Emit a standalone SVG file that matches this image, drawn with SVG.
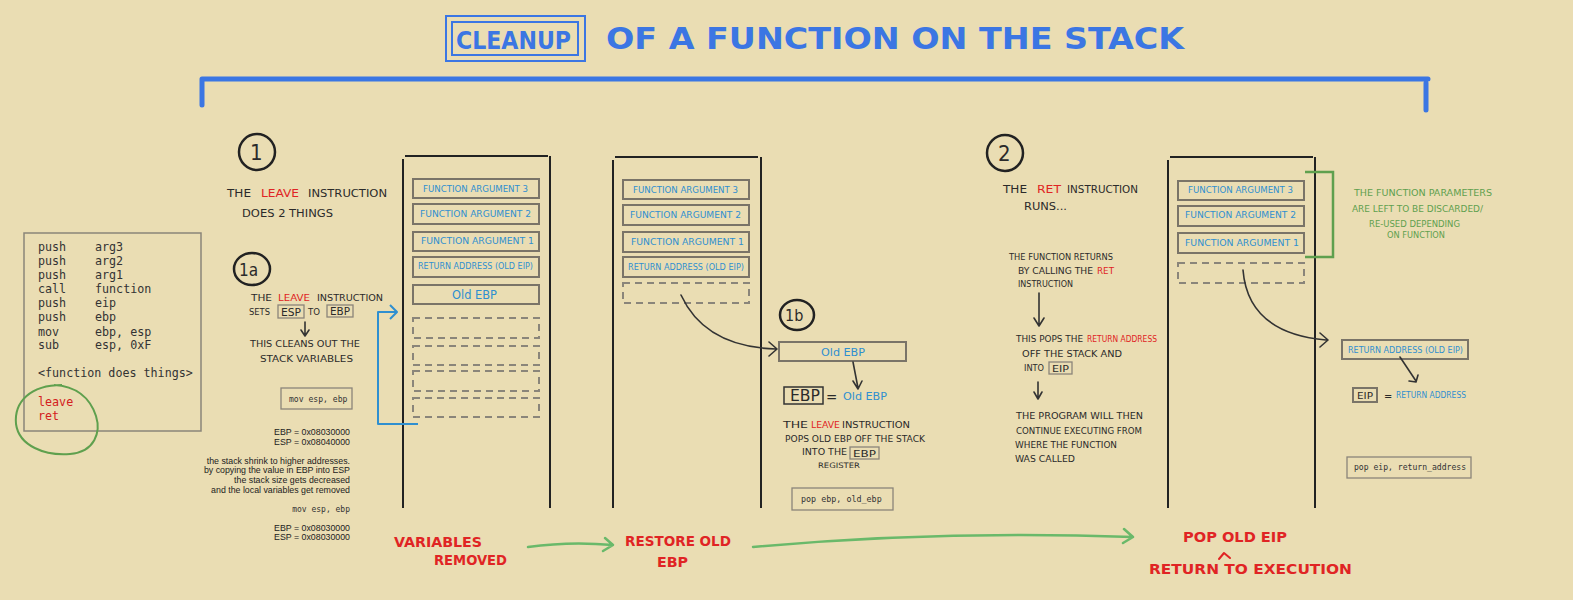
<svg xmlns="http://www.w3.org/2000/svg" width="1573" height="600" viewBox="0 0 1573 600">
<style>
.bg{fill:#EADDB3}
.hw{font-family:"Liberation Sans Narrow","DejaVu Sans Condensed","Liberation Sans",sans-serif;fill:#2a2a2a}
.red{fill:#E02424}
.blue{fill:#2F8FD0}
.grn{fill:#5FA04E}
.ttl{font-family:"Liberation Sans Narrow","DejaVu Sans Condensed","Liberation Sans",sans-serif;fill:#3B76E3;font-weight:bold}
.mono{font-family:"DejaVu Sans Mono","Liberation Mono",monospace;fill:#333}
.sm{font-family:"Liberation Sans",Arial,sans-serif;fill:#222;font-size:8.8px}
.box{fill:none;stroke:#7A7468;stroke-width:2}
.dash{fill:none;stroke:#8A857A;stroke-width:2;stroke-dasharray:7 5}
.stk{fill:none;stroke:#222;stroke-width:2}
.num{fill:none;stroke:#222;stroke-width:2.5}
.ln{fill:none;stroke:#333;stroke-width:1.6;stroke-linecap:round;stroke-linejoin:round}
.ga{fill:none;stroke:#6AB96A;stroke-width:2.5;stroke-linecap:round;stroke-linejoin:round}
.ba{fill:none;stroke:#2F8FD0;stroke-width:2;stroke-linejoin:round}
.cb{fill:none;stroke:#8A857A;stroke-width:1.3}
</style>
<rect class="bg" x="0" y="0" width="1573" height="600"/>

<g id="title">
  <rect x="446" y="16" width="139" height="45" fill="none" stroke="#3B76E3" stroke-width="2"/>
  <rect x="452" y="22" width="126" height="33" fill="none" stroke="#3B76E3" stroke-width="2"/>
  <text class="ttl" x="456" y="49" font-size="24" textLength="115" lengthAdjust="spacingAndGlyphs">CLEANUP</text>
  <text class="ttl" x="606" y="49" font-size="30" textLength="578" lengthAdjust="spacingAndGlyphs">OF A FUNCTION ON THE STACK</text>
  <path d="M202 79 H1428 M202 79 V105 M1426 83 V110" fill="none" stroke="#3B76E3" stroke-width="5" stroke-linecap="round"/>
</g>

<g id="code">
  <rect x="24" y="233" width="177" height="198" fill="none" stroke="#8A857A" stroke-width="1.5"/>
  <g class="mono" font-size="11.7">
    <text x="38" y="251">push</text><text x="95" y="251">arg3</text>
    <text x="38" y="265">push</text><text x="95" y="265">arg2</text>
    <text x="38" y="279">push</text><text x="95" y="279">arg1</text>
    <text x="38" y="293">call</text><text x="95" y="293">function</text>
    <text x="38" y="307">push</text><text x="95" y="307">eip</text>
    <text x="38" y="321">push</text><text x="95" y="321">ebp</text>
    <text x="38" y="336">mov</text><text x="95" y="336">ebp, esp</text>
    <text x="38" y="349">sub</text><text x="95" y="349">esp, 0xF</text>
    <text x="38" y="377">&lt;function does things&gt;</text>
    <text x="38" y="406" fill="#D42020">leave</text>
    <text x="38" y="420" fill="#D42020">ret</text>
  </g>
  <path d="M62 385 C30 385 14 402 16 424 C19 446 45 456 70 454 C95 452 101 432 96 416 C90 398 76 386 54 385" fill="none" stroke="#5FA04E" stroke-width="2"/>
</g>

<g id="step1">
  <circle class="num" cx="257" cy="152" r="18"/>
  <text class="hw" x="250" y="160" font-size="22">1</text>
  <text class="hw" x="227" y="197" font-size="11" textLength="24" lengthAdjust="spacingAndGlyphs">THE</text>
  <text class="hw red" x="261" y="197" font-size="11" textLength="38" lengthAdjust="spacingAndGlyphs">LEAVE</text>
  <text class="hw" x="308" y="197" font-size="11" textLength="79" lengthAdjust="spacingAndGlyphs">INSTRUCTION</text>
  <text class="hw" x="242" y="217" font-size="11" textLength="91" lengthAdjust="spacingAndGlyphs">DOES 2 THINGS</text>
</g>

<g id="step1a">
  <ellipse class="num" cx="252" cy="269" rx="18" ry="16"/>
  <text class="hw" x="239" y="276" font-size="17">1a</text>
  <text class="hw" x="251" y="301" font-size="9.5" textLength="21" lengthAdjust="spacingAndGlyphs">THE</text>
  <text class="hw red" x="278" y="301" font-size="9.5" textLength="32" lengthAdjust="spacingAndGlyphs">LEAVE</text>
  <text class="hw" x="317" y="301" font-size="9.5" textLength="66" lengthAdjust="spacingAndGlyphs">INSTRUCTION</text>
  <text class="hw" x="249" y="315" font-size="9.5" textLength="21" lengthAdjust="spacingAndGlyphs">SETS</text>
  <rect class="cb" x="278" y="305" width="26" height="13"/>
  <text class="hw" x="281" y="315.5" font-size="10" textLength="20" lengthAdjust="spacingAndGlyphs">ESP</text>
  <text class="hw" x="308" y="315" font-size="9.5" textLength="12" lengthAdjust="spacingAndGlyphs">TO</text>
  <rect class="cb" x="327" y="305" width="26" height="12"/>
  <text class="hw" x="330" y="315" font-size="10" textLength="20" lengthAdjust="spacingAndGlyphs">EBP</text>
  <text class="hw" x="250" y="347" font-size="9.5" textLength="110" lengthAdjust="spacingAndGlyphs">THIS CLEANS OUT THE</text>
  <text class="hw" x="260" y="362" font-size="9.5" textLength="93" lengthAdjust="spacingAndGlyphs">STACK VARIABLES</text>
  <rect class="cb" x="281" y="388" width="71" height="21"/>
  <text class="mono" x="289" y="402" font-size="8.1">mov esp, ebp</text>
  <g class="sm" text-anchor="end">
    <text x="350" y="435">EBP = 0x08030000</text>
    <text x="350" y="445">ESP = 0x08040000</text>
    <text x="350" y="464">the stack shrink to higher addresses.</text>
    <text x="350" y="473">by copying the value in EBP into ESP</text>
    <text x="350" y="483">the stack size gets decreased</text>
    <text x="350" y="493">and the local variables get removed</text>
    <text x="350" y="531">EBP = 0x08030000</text>
    <text x="350" y="540">ESP = 0x08030000</text>
  </g>
  <text class="mono" x="350" y="512" font-size="8" text-anchor="end">mov esp, ebp</text>
</g>

<g id="stack1">
  <path class="stk" d="M405 156 H548 M403 159 V508 M550 156 V508"/>
  <rect class="box" x="413" y="179" width="126" height="19"/>
  <rect class="box" x="413" y="204" width="126" height="20"/>
  <rect class="box" x="413" y="232" width="126" height="19"/>
  <rect class="box" x="413" y="257" width="126" height="20"/>
  <rect class="box" x="413" y="285" width="126" height="19"/>
  <rect class="dash" x="413" y="318" width="126" height="20"/>
  <rect class="dash" x="413" y="346" width="126" height="19"/>
  <rect class="dash" x="413" y="371" width="126" height="20"/>
  <rect class="dash" x="413" y="398" width="126" height="19"/>
  <g class="hw blue" font-size="8.5">
    <text x="423" y="192" textLength="105" lengthAdjust="spacingAndGlyphs">FUNCTION ARGUMENT 3</text>
    <text x="420" y="217" textLength="111" lengthAdjust="spacingAndGlyphs">FUNCTION ARGUMENT 2</text>
    <text x="421" y="244" textLength="113" lengthAdjust="spacingAndGlyphs">FUNCTION ARGUMENT 1</text>
    <text x="418" y="269" textLength="115" lengthAdjust="spacingAndGlyphs">RETURN ADDRESS (OLD EIP)</text>
    <text x="452" y="299" font-size="11.5" textLength="45" lengthAdjust="spacingAndGlyphs">Old EBP</text>
  </g>
</g>

<g id="stack2">
  <path class="stk" d="M615 157 H758 M613 160 V508 M761 157 V508"/>
  <rect class="box" x="623" y="180" width="126" height="19"/>
  <rect class="box" x="623" y="205" width="126" height="20"/>
  <rect class="box" x="623" y="232" width="126" height="20"/>
  <rect class="box" x="623" y="257" width="126" height="20"/>
  <rect class="dash" x="623" y="283" width="126" height="20"/>
  <g class="hw blue" font-size="8.5">
    <text x="633" y="193" textLength="105" lengthAdjust="spacingAndGlyphs">FUNCTION ARGUMENT 3</text>
    <text x="630" y="218" textLength="111" lengthAdjust="spacingAndGlyphs">FUNCTION ARGUMENT 2</text>
    <text x="631" y="245" textLength="113" lengthAdjust="spacingAndGlyphs">FUNCTION ARGUMENT 1</text>
    <text x="628" y="270" textLength="116" lengthAdjust="spacingAndGlyphs">RETURN ADDRESS (OLD EIP)</text>
  </g>
</g>

<g id="step1b">
  <ellipse class="num" cx="797" cy="315" rx="17" ry="15"/>
  <text class="hw" x="785" y="321" font-size="16">1b</text>
  <rect class="box" x="779" y="342" width="127" height="19"/>
  <text class="hw blue" x="821" y="355.5" font-size="11" textLength="44" lengthAdjust="spacingAndGlyphs">Old EBP</text>
  <rect x="784" y="387" width="39" height="17" fill="none" stroke="#333" stroke-width="1.5"/>
  <text class="hw" x="790" y="401" font-size="15" textLength="30" lengthAdjust="spacingAndGlyphs">EBP</text>
  <text class="hw" x="826" y="402" font-size="15">=</text>
  <text class="hw blue" x="843" y="400" font-size="11" textLength="44" lengthAdjust="spacingAndGlyphs">Old EBP</text>
  <text class="hw" x="783" y="428" font-size="9.5" textLength="25" lengthAdjust="spacingAndGlyphs">THE</text>
  <text class="hw red" x="811" y="428" font-size="9.5" textLength="29" lengthAdjust="spacingAndGlyphs">LEAVE</text>
  <text class="hw" x="842" y="428" font-size="9.5" textLength="68" lengthAdjust="spacingAndGlyphs">INSTRUCTION</text>
  <text class="hw" x="785" y="442" font-size="9.5" textLength="140" lengthAdjust="spacingAndGlyphs">POPS OLD EBP OFF THE STACK</text>
  <text class="hw" x="802" y="455" font-size="9.5" textLength="45" lengthAdjust="spacingAndGlyphs">INTO THE</text>
  <rect class="cb" x="850" y="447" width="29" height="12" stroke="#333"/>
  <text class="hw" x="853" y="457" font-size="9.5" textLength="23" lengthAdjust="spacingAndGlyphs">EBP</text>
  <text class="hw" x="818" y="468" font-size="7.5" textLength="42" lengthAdjust="spacingAndGlyphs">REGISTER</text>
  <rect class="cb" x="792" y="488" width="101" height="22"/>
  <text class="mono" x="801" y="502" font-size="8.4">pop  ebp, old_ebp</text>
</g>

<g id="step2">
  <circle class="num" cx="1005" cy="153" r="18"/>
  <text class="hw" x="998" y="161" font-size="22">2</text>
  <text class="hw" x="1003" y="193" font-size="10.5" textLength="24" lengthAdjust="spacingAndGlyphs">THE</text>
  <text class="hw red" x="1037" y="193" font-size="10.5" textLength="24" lengthAdjust="spacingAndGlyphs">RET</text>
  <text class="hw" x="1067" y="193" font-size="10.5" textLength="71" lengthAdjust="spacingAndGlyphs">INSTRUCTION</text>
  <text class="hw" x="1024" y="210" font-size="10.5" textLength="43" lengthAdjust="spacingAndGlyphs">RUNS...</text>
  <g class="hw" font-size="8.8">
    <text x="1009" y="260" textLength="104" lengthAdjust="spacingAndGlyphs">THE FUNCTION RETURNS</text>
    <text x="1018" y="274" textLength="75" lengthAdjust="spacingAndGlyphs">BY CALLING THE</text>
    <text x="1097" y="274" class="red" textLength="17" lengthAdjust="spacingAndGlyphs">RET</text>
    <text x="1018" y="287" textLength="55" lengthAdjust="spacingAndGlyphs">INSTRUCTION</text>
    <text x="1016" y="342" textLength="67" lengthAdjust="spacingAndGlyphs">THIS POPS THE</text>
    <text x="1087" y="342" class="red" textLength="70" lengthAdjust="spacingAndGlyphs">RETURN ADDRESS</text>
    <text x="1022" y="357" textLength="100" lengthAdjust="spacingAndGlyphs">OFF THE STACK AND</text>
    <text x="1024" y="371" textLength="20" lengthAdjust="spacingAndGlyphs">INTO</text>
    <text x="1052" y="372" textLength="17" lengthAdjust="spacingAndGlyphs">EIP</text>
    <text x="1016" y="419" textLength="127" lengthAdjust="spacingAndGlyphs">THE PROGRAM WILL THEN</text>
    <text x="1016" y="434" textLength="126" lengthAdjust="spacingAndGlyphs">CONTINUE EXECUTING FROM</text>
    <text x="1015" y="448" textLength="102" lengthAdjust="spacingAndGlyphs">WHERE THE FUNCTION</text>
    <text x="1015" y="462" textLength="60" lengthAdjust="spacingAndGlyphs">WAS CALLED</text>
  </g>
  <rect class="cb" x="1049" y="362" width="23" height="12" stroke="#555"/>
</g>

<g id="stack3">
  <path class="stk" d="M1170 157 H1313 M1168 160 V508 M1315 157 V508"/>
  <rect class="box" x="1178" y="181" width="126" height="19"/>
  <rect class="box" x="1178" y="206" width="126" height="20"/>
  <rect class="box" x="1178" y="233" width="126" height="20"/>
  <rect class="dash" x="1178" y="263" width="126" height="20"/>
  <g class="hw blue" font-size="8.5">
    <text x="1188" y="193" textLength="105" lengthAdjust="spacingAndGlyphs">FUNCTION ARGUMENT 3</text>
    <text x="1185" y="218" textLength="111" lengthAdjust="spacingAndGlyphs">FUNCTION ARGUMENT 2</text>
    <text x="1185" y="246" textLength="114" lengthAdjust="spacingAndGlyphs">FUNCTION ARGUMENT 1</text>
  </g>
  <path d="M1305 172 H1333 V257 H1305" fill="none" stroke="#5FA04E" stroke-width="2.5"/>
</g>

<g id="notes">
  <g class="hw grn" font-size="9">
    <text x="1354" y="196" textLength="138" lengthAdjust="spacingAndGlyphs">THE FUNCTION PARAMETERS</text>
    <text x="1352" y="212" textLength="131" lengthAdjust="spacingAndGlyphs">ARE LEFT TO BE DISCARDED/</text>
    <text x="1369" y="227" textLength="91" lengthAdjust="spacingAndGlyphs">RE-USED DEPENDING</text>
    <text x="1387" y="238" textLength="58" lengthAdjust="spacingAndGlyphs">ON FUNCTION</text>
  </g>
  <rect class="box" x="1342" y="340" width="126" height="19"/>
  <text class="hw blue" x="1348" y="353" font-size="8.5" textLength="115" lengthAdjust="spacingAndGlyphs">RETURN ADDRESS (OLD EIP)</text>
  <rect class="box" x="1353" y="388" width="24" height="14" stroke="#555"/>
  <text class="hw" x="1357" y="399" font-size="9.5" textLength="16" lengthAdjust="spacingAndGlyphs">EIP</text>
  <text class="hw" x="1384" y="400" font-size="11">=</text>
  <text class="hw blue" x="1396" y="398" font-size="8.5" textLength="70" lengthAdjust="spacingAndGlyphs">RETURN ADDRESS</text>
  <rect class="cb" x="1347" y="457" width="124" height="21"/>
  <text class="mono" x="1354" y="470" font-size="8.1">pop eip, return_address</text>
</g>

<g id="labels">
  <g class="hw red" font-size="14.5" font-weight="bold">
    <text x="394" y="547" textLength="88" lengthAdjust="spacingAndGlyphs">VARIABLES</text>
    <text x="434" y="565" textLength="73" lengthAdjust="spacingAndGlyphs">REMOVED</text>
    <text x="625" y="546" textLength="106" lengthAdjust="spacingAndGlyphs">RESTORE OLD</text>
    <text x="657" y="567" textLength="31" lengthAdjust="spacingAndGlyphs">EBP</text>
    <text x="1183" y="542" textLength="104" lengthAdjust="spacingAndGlyphs">POP OLD EIP</text>
    <text x="1149" y="574" textLength="203" lengthAdjust="spacingAndGlyphs">RETURN  TO EXECUTION</text>
  </g>
  <path d="M1219 559 L1224 553 L1230 558" fill="none" stroke="#E02424" stroke-width="2" stroke-linecap="round" stroke-linejoin="round"/>
</g>

<g id="connectors">
  <path class="ba" d="M418 424 H378 V312 H397 M390 305 L397 312 L390 319"/>
  <path class="ln" d="M305 322 V335 M301 330 L305 336 L309 330"/>
  <path class="ln" d="M681 295 Q705 347 776 349 M769 342 L777 349 L769 356"/>
  <path class="ln" d="M853 362 L858 388 M853 381 L858 389 L862 381"/>
  <path class="ln" d="M1039 293 V325 M1034 318 L1039 326 L1044 318"/>
  <path class="ln" d="M1038 382 V398 M1034 392 L1038 399 L1042 392"/>
  <path class="ln" d="M1243 270 Q1248 333 1326 340 M1320 333 L1328 340 L1320 347"/>
  <path class="ln" d="M1400 357 L1416 381 M1409 381 L1416 382 L1418 375"/>
  <path class="ga" d="M528 547 Q570 541 613 545 M605 538 L613 545 L603 551"/>
  <path class="ga" d="M753 547 Q940 530 1133 537 M1124 529 L1133 537 L1123 543"/>
</g>
</svg>
